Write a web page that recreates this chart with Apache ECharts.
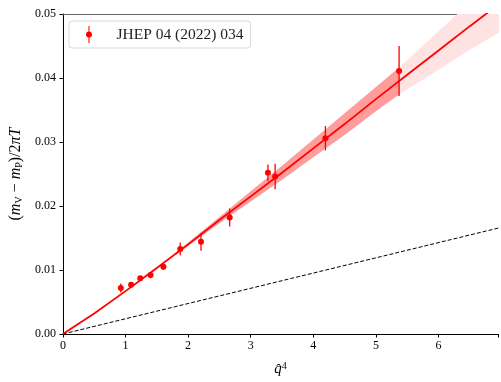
<!DOCTYPE html>
<html>
<head>
<meta charset="utf-8">
<script src="https://cdn.jsdelivr.net/npm/echarts@6/dist/echarts.min.js"></script>
<style>
  html, body { margin: 0; padding: 0; background: #fff; }
  #chart { width: 501px; height: 382px; }
</style>
</head>
<body>
<div id="chart"></div>
<script>
// lattice points (JHEP 04 (2022) 034)
var ptX = [0.925, 1.09, 1.236, 1.40, 1.605, 1.874, 2.206, 2.664, 3.275, 3.39, 4.193, 5.37]
var ptY = [0.0072, 0.0077, 0.0087, 0.0092, 0.0105, 0.0133, 0.0144, 0.0182, 0.0252, 0.0246, 0.0306, 0.0411]
var ptErr = [0.0007, 0.0003, 0.0003, 0.0005, 0.0005, 0.0010, 0.0014, 0.0014, 0.0013, 0.0020, 0.0019, 0.0039]

// fit curve
var fitX = [0, 0.5, 1, 1.5, 2, 2.5, 3, 3.5, 4, 4.5, 5, 5.5, 6, 6.5, 7]
var fitY = [0, 0.0032, 0.0067, 0.0103, 0.0140, 0.0178, 0.0215, 0.0252, 0.0290, 0.0328, 0.0367, 0.0405, 0.0443, 0.0481, 0.0518]

// uncertainty band inside the data range
var darkX = [1.8, 2.5, 3.0, 3.5, 4.0, 4.5, 5.0, 5.38]
var darkLo = [0.0123, 0.0173, 0.0207, 0.0241, 0.0276, 0.0311, 0.0348, 0.0375]
var darkHi = [0.0127, 0.0183, 0.0223, 0.0263, 0.0304, 0.0345, 0.0386, 0.0417]

// extrapolated band
var lightX = [5.38, 6.0, 6.5, 7.0]
var lightLo = [0.0375, 0.0413, 0.0444, 0.0473]
var lightHi = [0.0417, 0.0473, 0.0518, 0.0563]

// dashed reference line
var dashX = [0, 7]
var dashY = [0, 0.01666]

var xTicks = ['0', '1', '2', '3', '4', '5', '6']

var serif = '"Liberation Serif", "DejaVu Serif", serif'

function bandSeries(xs, lo, hi, color) {
  return {
    type: 'custom',
    clip: true,
    z: 1,
    silent: true,
    data: [[xs[0], lo[0], hi[0]]],
    renderItem: function (params, api) {
      var pts = []
      for (var i = 0; i < xs.length; i++) pts.push(api.coord([xs[i], hi[i]]))
      for (var j = xs.length - 1; j >= 0; j--) pts.push(api.coord([xs[j], lo[j]]))
      return { type: 'polygon', shape: { points: pts }, style: { fill: color } }
    }
  }
}

var chart = echarts.init(document.getElementById('chart'))

var pairs = function (xs, ys) { return xs.map(function (x, i) { return [x, ys[i]] }) }

chart.setOption({
  animation: false,
  grid: { left: 62, right: 0, top: 14, bottom: 38 },
  legend: {
    left: 69, top: 21,
    padding: [5, 7, 5, 17],
    itemWidth: 7, itemHeight: 17,
    borderColor: '#d9d9d9', borderWidth: 1, borderRadius: 3,
    selectedMode: false,
    textStyle: { fontFamily: serif, fontSize: 15.5, color: '#222', padding: [0, 0, 0, 19] },
    data: [{ name: 'JHEP 04 (2022) 034', icon: 'path://M3.4,0 L4.6,0 L4.6,20 L3.4,20 Z M4,6.5 A3.5,3.5 0 1,1 3.99,6.5 Z' }]
  },
  xAxis: [{
    type: 'value', min: 0, max: 6.95, interval: 1,
    splitLine: { show: false },
    axisLine: { lineStyle: { color: '#000', width: 1 } },
    axisTick: { length: 3.5, lineStyle: { color: '#000' } },
    axisLabel: {
      color: '#000', fontFamily: serif, fontSize: 12, margin: 6,
      formatter: function (v) { return xTicks[v] || '' }
    },
    name: '{q|q̂}{s|4}',
    nameLocation: 'middle', nameGap: 27,
    nameTextStyle: {
      rich: {
        q: { fontFamily: serif, fontStyle: 'italic', fontSize: 15, color: '#000', verticalAlign: 'bottom', lineHeight: 16 },
        s: { fontFamily: serif, fontSize: 10, color: '#000', verticalAlign: 'top', lineHeight: 16 }
      }
    }
  }, {
    type: 'value', position: 'top', min: 0, max: 6.95,
    splitLine: { show: false }, axisTick: { show: false }, axisLabel: { show: false },
    axisLine: { lineStyle: { color: '#666', width: 1 } }
  }],
  yAxis: {
    type: 'value', min: 0, max: 0.05, interval: 0.01,
    splitLine: { show: false },
    axisLine: { show: true, lineStyle: { color: '#000', width: 1 } },
    axisTick: { show: true, length: 3.5, lineStyle: { color: '#000' } },
    axisLabel: {
      color: '#000', fontFamily: serif, fontSize: 12, margin: 7,
      formatter: function (v) { return v.toFixed(2) }
    },
    name: '{n|(}{i|m}{s|V}{n| − }{i|m}{s|P}{n|)/2}{i|πT}',
    nameLocation: 'middle', nameGap: 38, nameRotate: 90,
    nameTextStyle: {
      rich: {
        n: { fontFamily: serif, fontSize: 16, color: '#000', verticalAlign: 'bottom', lineHeight: 20 },
        i: { fontFamily: serif, fontStyle: 'italic', fontSize: 16, color: '#000', verticalAlign: 'bottom', lineHeight: 20 },
        s: { fontFamily: serif, fontSize: 10, color: '#000', verticalAlign: 'bottom', lineHeight: 16 }
      }
    }
  },
  series: [
    bandSeries(darkX, darkLo, darkHi, '#ff9c9c'),
    bandSeries(lightX, lightLo, lightHi, '#ffe3e3'),
    {
      type: 'line', data: pairs(dashX, dashY), showSymbol: false, z: 2, silent: true,
      lineStyle: { color: '#000', width: 1, type: [4, 2] }
    },
    {
      type: 'line', data: pairs(fitX, fitY), showSymbol: false, z: 3, silent: true,
      lineStyle: { color: '#ff0000', width: 1.8 }
    },
    {
      type: 'custom', z: 4, silent: true,
      data: ptX.map(function (x, i) { return [x, ptY[i] - ptErr[i], ptY[i] + ptErr[i]] }),
      renderItem: function (params, api) {
        var a = api.coord([api.value(0), api.value(1)])
        var b = api.coord([api.value(0), api.value(2)])
        return { type: 'line', shape: { x1: a[0], y1: a[1], x2: b[0], y2: b[1] }, style: { stroke: '#ff0000', lineWidth: 1.3 } }
      }
    },
    {
      name: 'JHEP 04 (2022) 034',
      type: 'scatter', z: 5, symbolSize: 6,
      data: pairs(ptX, ptY),
      itemStyle: { color: '#ff0000', opacity: 1 }
    }
  ]
})
</script>
</body>
</html>
